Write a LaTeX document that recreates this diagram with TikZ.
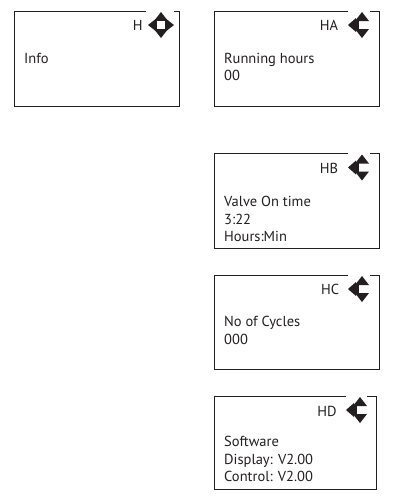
\documentclass[tikz,border=0pt]{standalone}
\usepackage{fontspec}
\setmainfont{PT Sans}
\definecolor{ink}{HTML}{231F20}
\newcommand\iconfour[1]{%
  \begin{scope}[shift={#1}]
    \fill[ink] (0,-13) -- (-7,-4) -- (7,-4) -- cycle;
    \fill[ink] (0,13) -- (-7,4) -- (7,4) -- cycle;
    \fill[ink] (-13,0) -- (-4,-7) -- (-4,7) -- cycle;
    \fill[ink] (13,0) -- (4,-7) -- (4,7) -- cycle;
    \fill[ink] (-6,-6) rectangle (6,6);
    \fill[white] (-3.8,-3.8) rectangle (3.8,3.8);
  \end{scope}}
\newcommand\iconthree[1]{%
  \begin{scope}[shift={#1}]
    \fill[ink] (0,-13) -- (-7,-4) -- (7,-4) -- cycle;
    \fill[ink] (0,13) -- (-7,4) -- (7,4) -- cycle;
    \fill[ink] (-14,0) -- (-6,-7) -- (-6,7) -- cycle;
    \fill[ink] (-8,-5) rectangle (-3,5);
  \end{scope}}
\begin{document}
\begin{tikzpicture}[x=1pt,y=-1pt,
  box/.style={draw=ink, line width=0.9pt, inner sep=0, minimum width=#1},
  box/.default=165pt,
  txt/.style={anchor=base west, inner sep=0, text=ink, font=\fontsize{14.5}{17}\selectfont},
  lbl/.style={anchor=base east, inner sep=0, text=ink, font=\fontsize{14.5}{17}\selectfont},
  gap/.style={fill=white}]
\useasboundingbox (0,0) rectangle (413,499);
% boxes
\node[box, minimum height=95pt] (bH) at (96.5,58.5) {};
\node[box, minimum height=95pt] (bHA) at (296.5,58.5) {};
\node[box, minimum height=95pt] (bHB) at (296.5,200.5) {};
\node[box, minimum height=93.5pt] (bHC) at (296.5,322.25) {};
\node[box=162pt, minimum height=93pt] (bHD) at (295,442.5) {};
% gaps in top borders
\fill[gap] (146,9.3) rectangle (174,12.7);
\fill[gap] (348,9.3) rectangle (370,12.7);
\fill[gap] (348,151.3) rectangle (370,154.7);
\fill[gap] (348,273.8) rectangle (370,277.2);
\fill[gap] (346,394.3) rectangle (367,397.7);
% icons
\iconfour{(161,25)}
\iconthree{(362,25)}
\iconthree{(362,167.5)}
\iconthree{(362,289)}
\iconthree{(360,410)}
% labels
\node[lbl] (lH) at (142.7,30.7) {H};
\node[lbl] (lHA) at (338.3,30.7) {HA};
\node[lbl] (lHB) at (338.3,173.3) {HB};
\node[lbl] (lHC) at (339.3,294.3) {HC};
\node[lbl] (lHD) at (336.7,416) {HD};
% texts
\node[txt] (t1) at (24,63.3) {Info};
\node[txt] (t2) at (224,63.3) {Running hours};
\node[txt] (t3) at (224,80.7) {00};
\node[txt] (t4) at (224,206) {Valve On time};
\node[txt] (t5) at (224,224) {3:22};
\node[txt] (t6) at (224,241.7) {Hours:Min};
\node[txt] (t7) at (224,326.7) {No of Cycles};
\node[txt] (t8) at (224,344) {000};
\node[txt] (t9) at (224,446.7) {Software};
\node[txt] (t10) at (224,464) {Display: V2.00};
\node[txt] (t11) at (224,481.7) {Control: V2.00};
\end{tikzpicture}
\end{document}
